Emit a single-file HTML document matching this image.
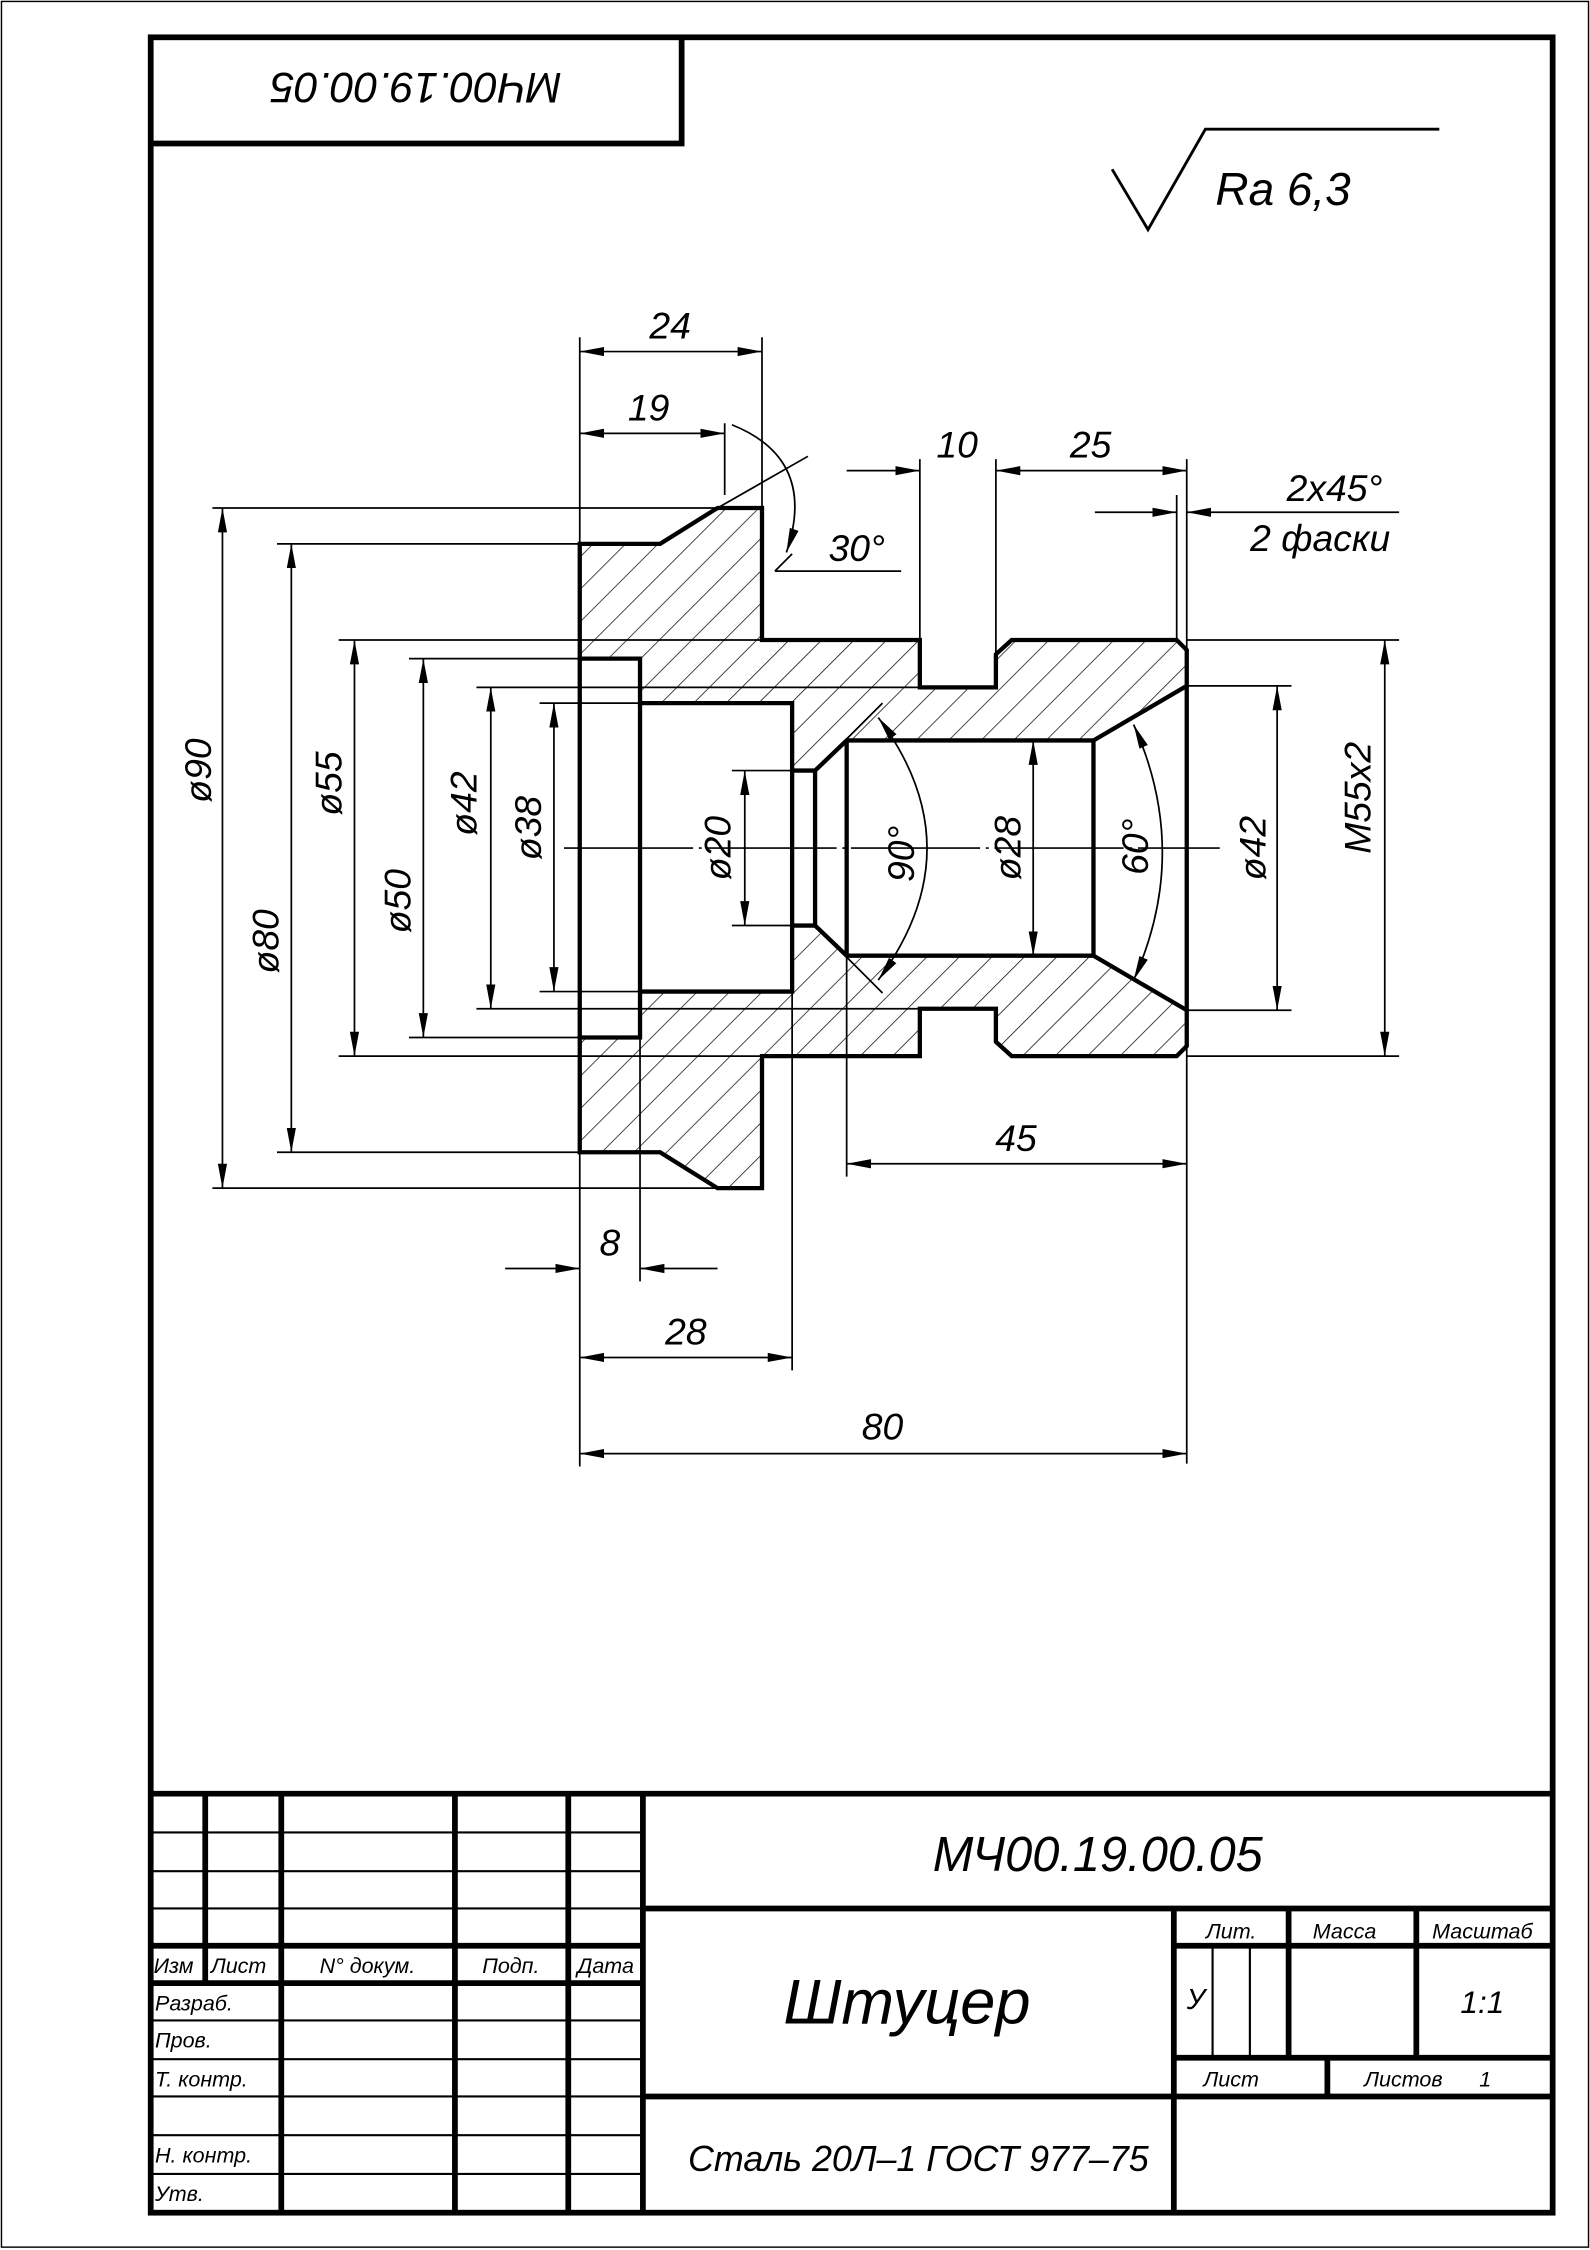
<!DOCTYPE html>
<html><head><meta charset="utf-8"><style>
html,body{margin:0;padding:0;background:#fff}
svg{display:block}
text{font-family:"Liberation Sans",sans-serif;font-style:italic;fill:#000}
</style></head><body>
<svg width="1590" height="2250" viewBox="0 0 1108 1568" xmlns="http://www.w3.org/2000/svg">
<defs>
<marker id="a" markerUnits="userSpaceOnUse" markerWidth="18" markerHeight="8" refX="17" refY="4" orient="auto-start-reverse"><path d="M0,0.8 L17,4 L0,7.2 Z" fill="#000"/></marker>
<pattern id="h" width="16" height="16" patternUnits="userSpaceOnUse" patternTransform="rotate(45)"><line x1="0" y1="0" x2="0" y2="16" stroke="#000" stroke-width="1"/></pattern>
</defs>
<rect x="0" y="0" width="1108" height="1568" fill="#fff"/>
<rect x="1" y="1" width="1106" height="1565" fill="none" stroke="#000" stroke-width="1"/>
<rect x="105" y="26" width="977" height="1516" fill="none" stroke="#000" stroke-width="4"/>
<polyline points="105,100 475,100 475,26" fill="none" stroke="#000" stroke-width="4"/>
<text x="290" y="75" font-size="30" text-anchor="middle" transform="rotate(180 290 63)">МЧ00.19.00.05</text>
<polyline points="775,118 800,160 840,90 1003,90" fill="none" stroke="#000" stroke-width="2"/>
<text x="847" y="143" font-size="32">Ra 6,3</text>

<!-- section -->
<g stroke="#000" stroke-width="3" stroke-linejoin="miter">
<path d="M404,379 L460,379 L500,354 L531,354 L531,446 L641,446 L641,479 L694,479 L694,456 L705,446 L820,446 L827,453 L827,478 L762,516 L590,516 L568,537 L552,537 L552,490 L446,490 L446,459 L404,459 Z" fill="url(#h)"/>
<path d="M404,803 L460,803 L500,828 L531,828 L531,736 L641,736 L641,703 L694,703 L694,726 L705,736 L820,736 L827,729 L827,704 L762,666 L590,666 L568,645 L552,645 L552,691 L446,691 L446,723 L404,723 Z" fill="url(#h)"/>
<line x1="404" y1="459" x2="404" y2="723"/>
<line x1="446" y1="490" x2="446" y2="691"/>
<line x1="552" y1="537" x2="552" y2="645"/>
<line x1="568" y1="537" x2="568" y2="645"/>
<line x1="590" y1="516" x2="590" y2="666"/>
<line x1="762" y1="516" x2="762" y2="666"/>
<line x1="827" y1="478" x2="827" y2="704"/>
</g>

<g stroke="#000" stroke-width="1.2" fill="none">
<line x1="393" y1="591" x2="850" y2="591" stroke-dasharray="90,4,2,4"/>
<line x1="404" y1="235" x2="404" y2="1022"/>
<line x1="531" y1="235" x2="531" y2="354"/>
<line x1="505" y1="295" x2="505" y2="345"/>
<line x1="404" y1="245" x2="531" y2="245" marker-start="url(#a)" marker-end="url(#a)"/>
<line x1="404" y1="302" x2="505" y2="302" marker-start="url(#a)" marker-end="url(#a)"/>
<line x1="500" y1="354" x2="563" y2="318"/>
<path d="M510,296 Q570,320 548,385" marker-end="url(#a)"/>
<line x1="540" y1="398" x2="628" y2="398"/>
<line x1="540" y1="398" x2="552" y2="386"/>
<line x1="641" y1="320" x2="641" y2="446"/>
<line x1="694" y1="320" x2="694" y2="456"/>
<line x1="827" y1="320" x2="827" y2="1020"/>
<line x1="820" y1="345" x2="820" y2="446"/>
<line x1="590" y1="328" x2="641" y2="328" marker-end="url(#a)"/>
<line x1="694" y1="328" x2="827" y2="328" marker-start="url(#a)" marker-end="url(#a)"/>
<line x1="763" y1="357" x2="820" y2="357" marker-end="url(#a)"/>
<line x1="975" y1="357" x2="827" y2="357" marker-end="url(#a)"/>
<line x1="148" y1="354" x2="500" y2="354"/>
<line x1="148" y1="828" x2="500" y2="828"/>
<line x1="193" y1="379" x2="404" y2="379"/>
<line x1="193" y1="803" x2="404" y2="803"/>
<line x1="236" y1="446" x2="531" y2="446"/>
<line x1="236" y1="736" x2="531" y2="736"/>
<line x1="285" y1="459" x2="404" y2="459"/>
<line x1="285" y1="723" x2="404" y2="723"/>
<line x1="332" y1="479" x2="641" y2="479"/>
<line x1="332" y1="703" x2="641" y2="703"/>
<line x1="376" y1="490" x2="446" y2="490"/>
<line x1="376" y1="691" x2="446" y2="691"/>
<line x1="510" y1="537" x2="552" y2="537"/>
<line x1="510" y1="645" x2="552" y2="645"/>
<line x1="155" y1="354" x2="155" y2="828" marker-start="url(#a)" marker-end="url(#a)"/>
<line x1="203" y1="379" x2="203" y2="803" marker-start="url(#a)" marker-end="url(#a)"/>
<line x1="247" y1="446" x2="247" y2="736" marker-start="url(#a)" marker-end="url(#a)"/>
<line x1="295" y1="459" x2="295" y2="723" marker-start="url(#a)" marker-end="url(#a)"/>
<line x1="342" y1="479" x2="342" y2="703" marker-start="url(#a)" marker-end="url(#a)"/>
<line x1="386" y1="490" x2="386" y2="691" marker-start="url(#a)" marker-end="url(#a)"/>
<line x1="519" y1="537" x2="519" y2="645" marker-start="url(#a)" marker-end="url(#a)"/>
<line x1="720" y1="516" x2="720" y2="666" marker-start="url(#a)" marker-end="url(#a)"/>
<line x1="827" y1="478" x2="900" y2="478"/>
<line x1="827" y1="704" x2="900" y2="704"/>
<line x1="827" y1="446" x2="975" y2="446"/>
<line x1="827" y1="736" x2="975" y2="736"/>
<line x1="890" y1="478" x2="890" y2="704" marker-start="url(#a)" marker-end="url(#a)"/>
<line x1="965" y1="446" x2="965" y2="736" marker-start="url(#a)" marker-end="url(#a)"/>
<line x1="583" y1="522" x2="615" y2="490"/>
<line x1="583" y1="660" x2="615" y2="692"/>
<path d="M612,500 Q680,591 612,683" marker-start="url(#a)" marker-end="url(#a)"/>
<path d="M790,505 Q830,594 790,683" marker-start="url(#a)" marker-end="url(#a)"/>
<line x1="590" y1="666" x2="590" y2="820"/>
<line x1="590" y1="811" x2="827" y2="811" marker-start="url(#a)" marker-end="url(#a)"/>
<line x1="446" y1="723" x2="446" y2="893"/>
<line x1="352" y1="884" x2="404" y2="884" marker-end="url(#a)"/>
<line x1="500" y1="884" x2="446" y2="884" marker-end="url(#a)"/>
<line x1="552" y1="691" x2="552" y2="955"/>
<line x1="404" y1="946" x2="552" y2="946" marker-start="url(#a)" marker-end="url(#a)"/>
<line x1="404" y1="1013" x2="827" y2="1013" marker-start="url(#a)" marker-end="url(#a)"/>
</g>

<g font-size="26">
<text x="467" y="236" text-anchor="middle">24</text>
<text x="452" y="293" text-anchor="middle">19</text>
<text x="597" y="391" text-anchor="middle">30°</text>
<text x="667" y="319" text-anchor="middle">10</text>
<text x="760" y="319" text-anchor="middle">25</text>
<text x="930" y="349" text-anchor="middle">2x45°</text>
<text x="920" y="384" text-anchor="middle">2  фаски</text>
<text x="708" y="802" text-anchor="middle">45</text>
<text x="425" y="875" text-anchor="middle">8</text>
<text x="478" y="937" text-anchor="middle">28</text>
<text x="615" y="1003" text-anchor="middle">80</text>
<text transform="translate(147,537) rotate(-90)" text-anchor="middle">ø90</text>
<text transform="translate(194,656) rotate(-90)" text-anchor="middle">ø80</text>
<text transform="translate(238,546) rotate(-90)" text-anchor="middle">ø55</text>
<text transform="translate(286,628) rotate(-90)" text-anchor="middle">ø50</text>
<text transform="translate(332,560) rotate(-90)" text-anchor="middle">ø42</text>
<text transform="translate(377,577) rotate(-90)" text-anchor="middle">ø38</text>
<text transform="translate(509,591) rotate(-90)" text-anchor="middle">ø20</text>
<text transform="translate(637,595) rotate(-90)" text-anchor="middle">90°</text>
<text transform="translate(711,591) rotate(-90)" text-anchor="middle">ø28</text>
<text transform="translate(800,590) rotate(-90)" text-anchor="middle">60°</text>
<text transform="translate(882,591) rotate(-90)" text-anchor="middle">ø42</text>
<text transform="translate(955,556) rotate(-90)" text-anchor="middle">M55x2</text>
</g>

<g stroke="#000" stroke-width="4" fill="none">
<line x1="105" y1="1250" x2="1082" y2="1250"/>
<line x1="143" y1="1250" x2="143" y2="1382"/>
<line x1="196" y1="1250" x2="196" y2="1542"/>
<line x1="317" y1="1250" x2="317" y2="1542"/>
<line x1="396" y1="1250" x2="396" y2="1542"/>
<line x1="448" y1="1250" x2="448" y2="1542"/>
<line x1="105" y1="1356" x2="448" y2="1356"/>
<line x1="105" y1="1382" x2="448" y2="1382"/>
<line x1="448" y1="1330" x2="1082" y2="1330"/>
<line x1="448" y1="1461" x2="1082" y2="1461"/>
<line x1="818" y1="1330" x2="818" y2="1542"/>
<line x1="818" y1="1356" x2="1082" y2="1356"/>
<line x1="818" y1="1434" x2="1082" y2="1434"/>
<line x1="898" y1="1330" x2="898" y2="1434"/>
<line x1="987" y1="1330" x2="987" y2="1434"/>
<line x1="925" y1="1434" x2="925" y2="1461"/>
</g>
<g stroke="#000" stroke-width="1.5">
<line x1="105" y1="1277" x2="448" y2="1277"/>
<line x1="105" y1="1304" x2="448" y2="1304"/>
<line x1="105" y1="1330" x2="448" y2="1330"/>
<line x1="105" y1="1408" x2="448" y2="1408"/>
<line x1="105" y1="1435" x2="448" y2="1435"/>
<line x1="105" y1="1461" x2="448" y2="1461"/>
<line x1="105" y1="1488" x2="448" y2="1488"/>
<line x1="105" y1="1515" x2="448" y2="1515"/>
<line x1="845" y1="1356" x2="845" y2="1434"/>
<line x1="871" y1="1356" x2="871" y2="1434"/>
</g>
<g font-size="15">
<text x="107" y="1375">Изм</text>
<text x="147" y="1375">Лист</text>
<text x="256" y="1375" text-anchor="middle">N°  докум.</text>
<text x="356" y="1375" text-anchor="middle">Подп.</text>
<text x="422" y="1375" text-anchor="middle">Дата</text>
<text x="108" y="1401">Разраб.</text>
<text x="108" y="1427">Пров.</text>
<text x="108" y="1454">Т. контр.</text>
<text x="108" y="1507">Н. контр.</text>
<text x="108" y="1534">Утв.</text>
<text x="858" y="1351" text-anchor="middle">Лит.</text>
<text x="937" y="1351" text-anchor="middle">Масса</text>
<text x="1033" y="1351" text-anchor="middle">Масштаб</text>
<text x="858" y="1454" text-anchor="middle">Лист</text>
<text x="978" y="1454" text-anchor="middle">Листов</text>
<text x="1035" y="1454" text-anchor="middle">1</text>
</g>
<text x="827" y="1400" font-size="20">У</text>
<text x="1033" y="1403" font-size="22" text-anchor="middle">1:1</text>
<text x="765" y="1304" font-size="34" text-anchor="middle">МЧ00.19.00.05</text>
<text x="632" y="1410" font-size="44" text-anchor="middle">Штуцер</text>
<text x="640" y="1513" font-size="25" text-anchor="middle">Сталь 20Л–1  ГОСТ 977–75</text>
</svg>
</body></html>
